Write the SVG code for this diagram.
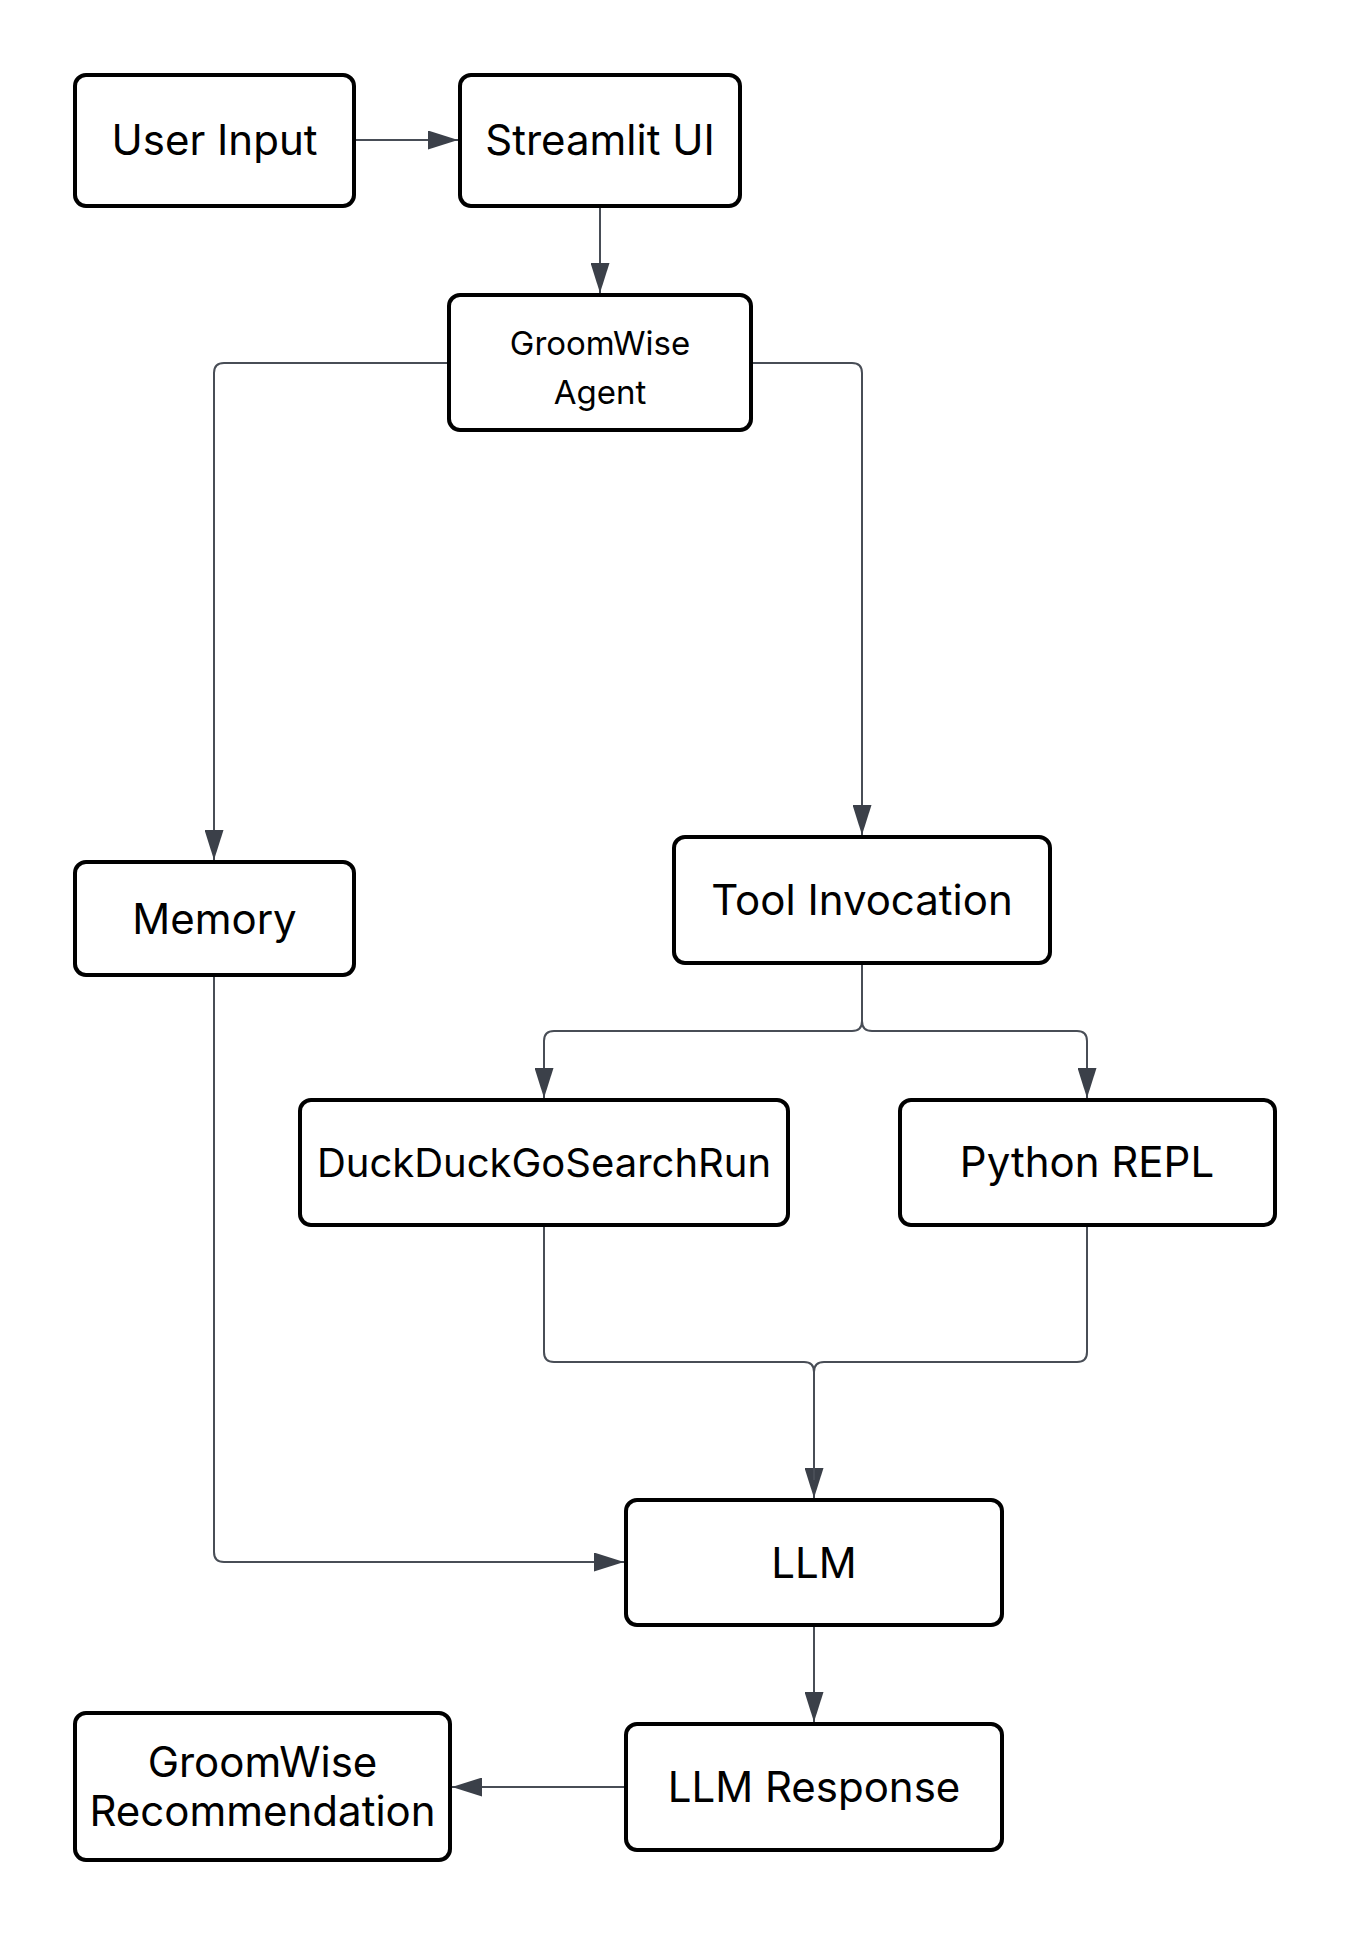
<svg xmlns="http://www.w3.org/2000/svg" width="1350" height="1935" viewBox="0 0 1350 1935">
<style>
.box{fill:#ffffff;stroke:#000000;stroke-width:4}
.lbl{font-family:Inter,"Liberation Sans",sans-serif;font-size:42px;fill:#000000;text-anchor:middle}
.sm{font-size:33px}
.ddg{font-size:40px}
.edge{fill:none;stroke:#484d56;stroke-width:2}
</style>
<defs>
<marker id="arr" markerUnits="userSpaceOnUse" markerWidth="30" markerHeight="19" refX="30" refY="9.5" orient="auto">
<path d="M0,0 L30,9.5 L0,19 z" fill="#3b4049"/>
</marker>
</defs>
<rect width="1350" height="1935" fill="#ffffff"/>
<g id="connectors">
<path class="edge" marker-end="url(#arr)" d="M354 140 H458"/>
<path class="edge" marker-end="url(#arr)" d="M600 206 V293"/>
<path class="edge" marker-end="url(#arr)" d="M449 363 H224 Q214 363 214 373 V860"/>
<path class="edge" marker-end="url(#arr)" d="M751 363 H852 Q862 363 862 373 V835"/>
<path class="edge" marker-end="url(#arr)" d="M862 963 V1021 Q862 1031 852 1031 H554 Q544 1031 544 1041 V1098"/>
<path class="edge" marker-end="url(#arr)" d="M862 963 V1021 Q862 1031 872 1031 H1077 Q1087 1031 1087 1041 V1098"/>
<path class="edge" marker-end="url(#arr)" d="M544 1225 V1352 Q544 1362 554 1362 H804 Q814 1362 814 1372 V1498"/>
<path class="edge" d="M1087 1225 V1352 Q1087 1362 1077 1362 H824 Q814 1362 814 1372 V1480"/>
<path class="edge" marker-end="url(#arr)" d="M214 975 V1552 Q214 1562 224 1562 H624"/>
<path class="edge" marker-end="url(#arr)" d="M814 1625 V1722"/>
<path class="edge" marker-end="url(#arr)" d="M626 1787 H452"/>
</g>
<g id="user-input">
<rect class="box" x="75" y="75" width="279" height="131" rx="11"/>
<text class="lbl" x="214.5" y="155">User Input</text>
</g>
<g id="streamlit-ui">
<rect class="box" x="460" y="75" width="280" height="131" rx="11"/>
<text class="lbl" x="600" y="155">Streamlit UI</text>
</g>
<g id="groomwise-agent">
<rect class="box" x="449" y="295" width="302" height="135" rx="11"/>
<text class="lbl sm" x="600" y="355">GroomWise</text>
<text class="lbl sm" x="600" y="404">Agent</text>
</g>
<g id="memory">
<rect class="box" x="75" y="862" width="279" height="113" rx="11"/>
<text class="lbl" x="214.5" y="934">Memory</text>
</g>
<g id="tool-invocation">
<rect class="box" x="674" y="837" width="376" height="126" rx="11"/>
<text class="lbl" x="862" y="915">Tool Invocation</text>
</g>
<g id="duckduckgo">
<rect class="box" x="300" y="1100" width="488" height="125" rx="11"/>
<text class="lbl ddg" x="544" y="1177">DuckDuckGoSearchRun</text>
</g>
<g id="python-repl">
<rect class="box" x="900" y="1100" width="375" height="125" rx="11"/>
<text class="lbl" x="1087" y="1177">Python REPL</text>
</g>
<g id="llm">
<rect class="box" x="626" y="1500" width="376" height="125" rx="11"/>
<text class="lbl" x="814" y="1578">LLM</text>
</g>
<g id="llm-response">
<rect class="box" x="626" y="1724" width="376" height="126" rx="11"/>
<text class="lbl" x="814" y="1802">LLM Response</text>
</g>
<g id="groomwise-recommendation">
<rect class="box" x="75" y="1713" width="375" height="147" rx="11"/>
<text class="lbl" x="262.5" y="1777">GroomWise</text>
<text class="lbl" x="262.5" y="1826">Recommendation</text>
</g>
</svg>
